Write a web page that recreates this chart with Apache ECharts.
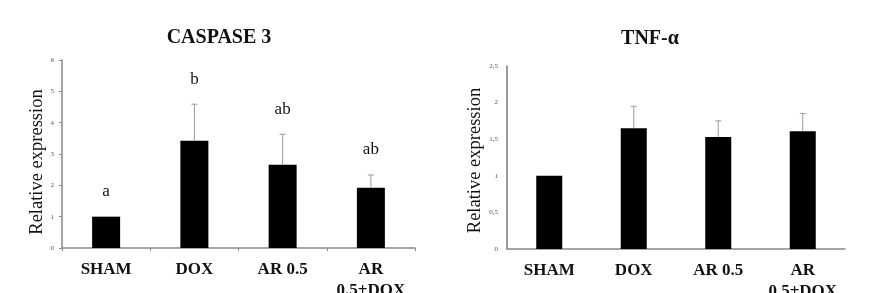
<!DOCTYPE html>
<html><head><meta charset="utf-8">
<script src="https://cdn.jsdelivr.net/npm/echarts@6/dist/echarts.min.js"></script>
<style>html,body{margin:0;padding:0;background:#fff}#c{width:886px;height:293px}</style>
</head><body><div id="c"></div>
<script>
const categories = ['SHAM', 'DOX', 'AR 0.5', 'AR\n0.5+DOX'];
const caspaseMeans = [1.0, 3.42, 2.66, 1.92];
const caspaseUpper = [1.0, 4.59, 3.63, 2.33];
const caspaseLetters = ['a', 'b', 'ab', 'ab'];
const tnfMeans = [1.0, 1.65, 1.53, 1.61];
const tnfUpper = [1.0, 1.95, 1.75, 1.85];
const caspaseTicks = [0, 1, 2, 3, 4, 5, 6];
const tnfTicks = ['0', '0,5', '1', '1,5', '2', '2,5'];

const serif = 'Liberation Serif';
const chart = echarts.init(document.getElementById('c'));

function errSeries(xi, yi, means, upper, letters) {
  return {
    type: 'custom', xAxisIndex: xi, yAxisIndex: yi, z: 5,
    data: means.map((m, i) => [i, m, upper[i]]),
    renderItem: function (params, api) {
      const i = api.value(0);
      const p0 = api.coord([i, api.value(1)]);
      const p1 = api.coord([i, api.value(2)]);
      const children = [];
      if (p0[1] - p1[1] > 1) {
        children.push({ type: 'line', shape: { x1: p0[0], y1: p0[1], x2: p1[0], y2: p1[1] }, style: { stroke: '#9a9a9a', lineWidth: 1 } });
        children.push({ type: 'line', shape: { x1: p1[0] - 3, y1: p1[1], x2: p1[0] + 3, y2: p1[1] }, style: { stroke: '#9a9a9a', lineWidth: 1 } });
      }
      if (letters) {
        children.push({ type: 'text', style: { text: letters[params.dataIndex], x: p1[0], y: p1[1] - 25, align: 'center', verticalAlign: 'middle', font: '17px "' + serif + '"', fill: '#111' } });
      }
      return { type: 'group', children: children };
    }
  };
}

const xAxisCommon = {
  type: 'category', data: categories,
  axisLabel: { fontFamily: serif, fontWeight: 'bold', fontSize: 17, color: '#111', margin: 11, lineHeight: 21, interval: 0 },
  axisLine: { lineStyle: { color: '#888', width: 1.5 } }
};

chart.setOption({
  animation: false,
  title: [
    { text: 'CASPASE 3', left: 219, top: 28, padding: 0, textAlign: 'center', textStyle: { fontFamily: serif, fontWeight: 'bold', fontSize: 20, color: '#111' } },
    { text: 'TNF-α', left: 650, top: 29, padding: 0, textAlign: 'center', textStyle: { fontFamily: serif, fontWeight: 'bold', fontSize: 20, color: '#111' } }
  ],
  grid: [
    { left: 62, right: 471, top: 60, bottom: 45, containLabel: false, outerBoundsMode: 'none' },
    { left: 507, right: 41, top: 66, bottom: 44, containLabel: false, outerBoundsMode: 'none' }
  ],
  xAxis: [
    Object.assign({}, xAxisCommon, { gridIndex: 0, axisTick: { show: true, length: 3, lineStyle: { color: '#888' } } }),
    Object.assign({}, xAxisCommon, { gridIndex: 1, axisTick: { show: false } })
  ],
  yAxis: [
    { type: 'value', gridIndex: 0, min: 0, max: 6, interval: 1,
      name: 'Relative expression', nameLocation: 'middle', nameGap: 15,
      nameTextStyle: { fontFamily: serif, fontSize: 18.5, color: '#111', padding: [0, 16, 0, 0] },
      axisLine: { show: true, lineStyle: { color: '#888', width: 1.5 } },
      axisTick: { show: true, length: 3, lineStyle: { color: '#888' } },
      splitLine: { show: false },
      axisLabel: { fontFamily: serif, fontSize: 7, color: '#555', margin: 8, formatter: v => String(caspaseTicks[Math.round(v)]) } },
    { type: 'value', gridIndex: 1, min: 0, max: 2.5, interval: 0.5,
      name: 'Relative expression', nameLocation: 'middle', nameGap: 22,
      nameTextStyle: { fontFamily: serif, fontSize: 18.5, color: '#111', padding: [0, 6, 0, 0] },
      axisLine: { show: true, lineStyle: { color: '#777', width: 1.5 } },
      axisTick: { show: false },
      splitLine: { show: false },
      axisLabel: { fontFamily: serif, fontSize: 7, color: '#555', margin: 9, formatter: v => tnfTicks[Math.round(v * 2)] } }
  ],
  series: [
    { type: 'bar', xAxisIndex: 0, yAxisIndex: 0, data: caspaseMeans, barWidth: 28, itemStyle: { color: '#000' } },
    errSeries(0, 0, caspaseMeans, caspaseUpper, caspaseLetters),
    { type: 'bar', xAxisIndex: 1, yAxisIndex: 1, data: tnfMeans, barWidth: 26, itemStyle: { color: '#000' } },
    errSeries(1, 1, tnfMeans, tnfUpper, null)
  ]
});
</script></body></html>
